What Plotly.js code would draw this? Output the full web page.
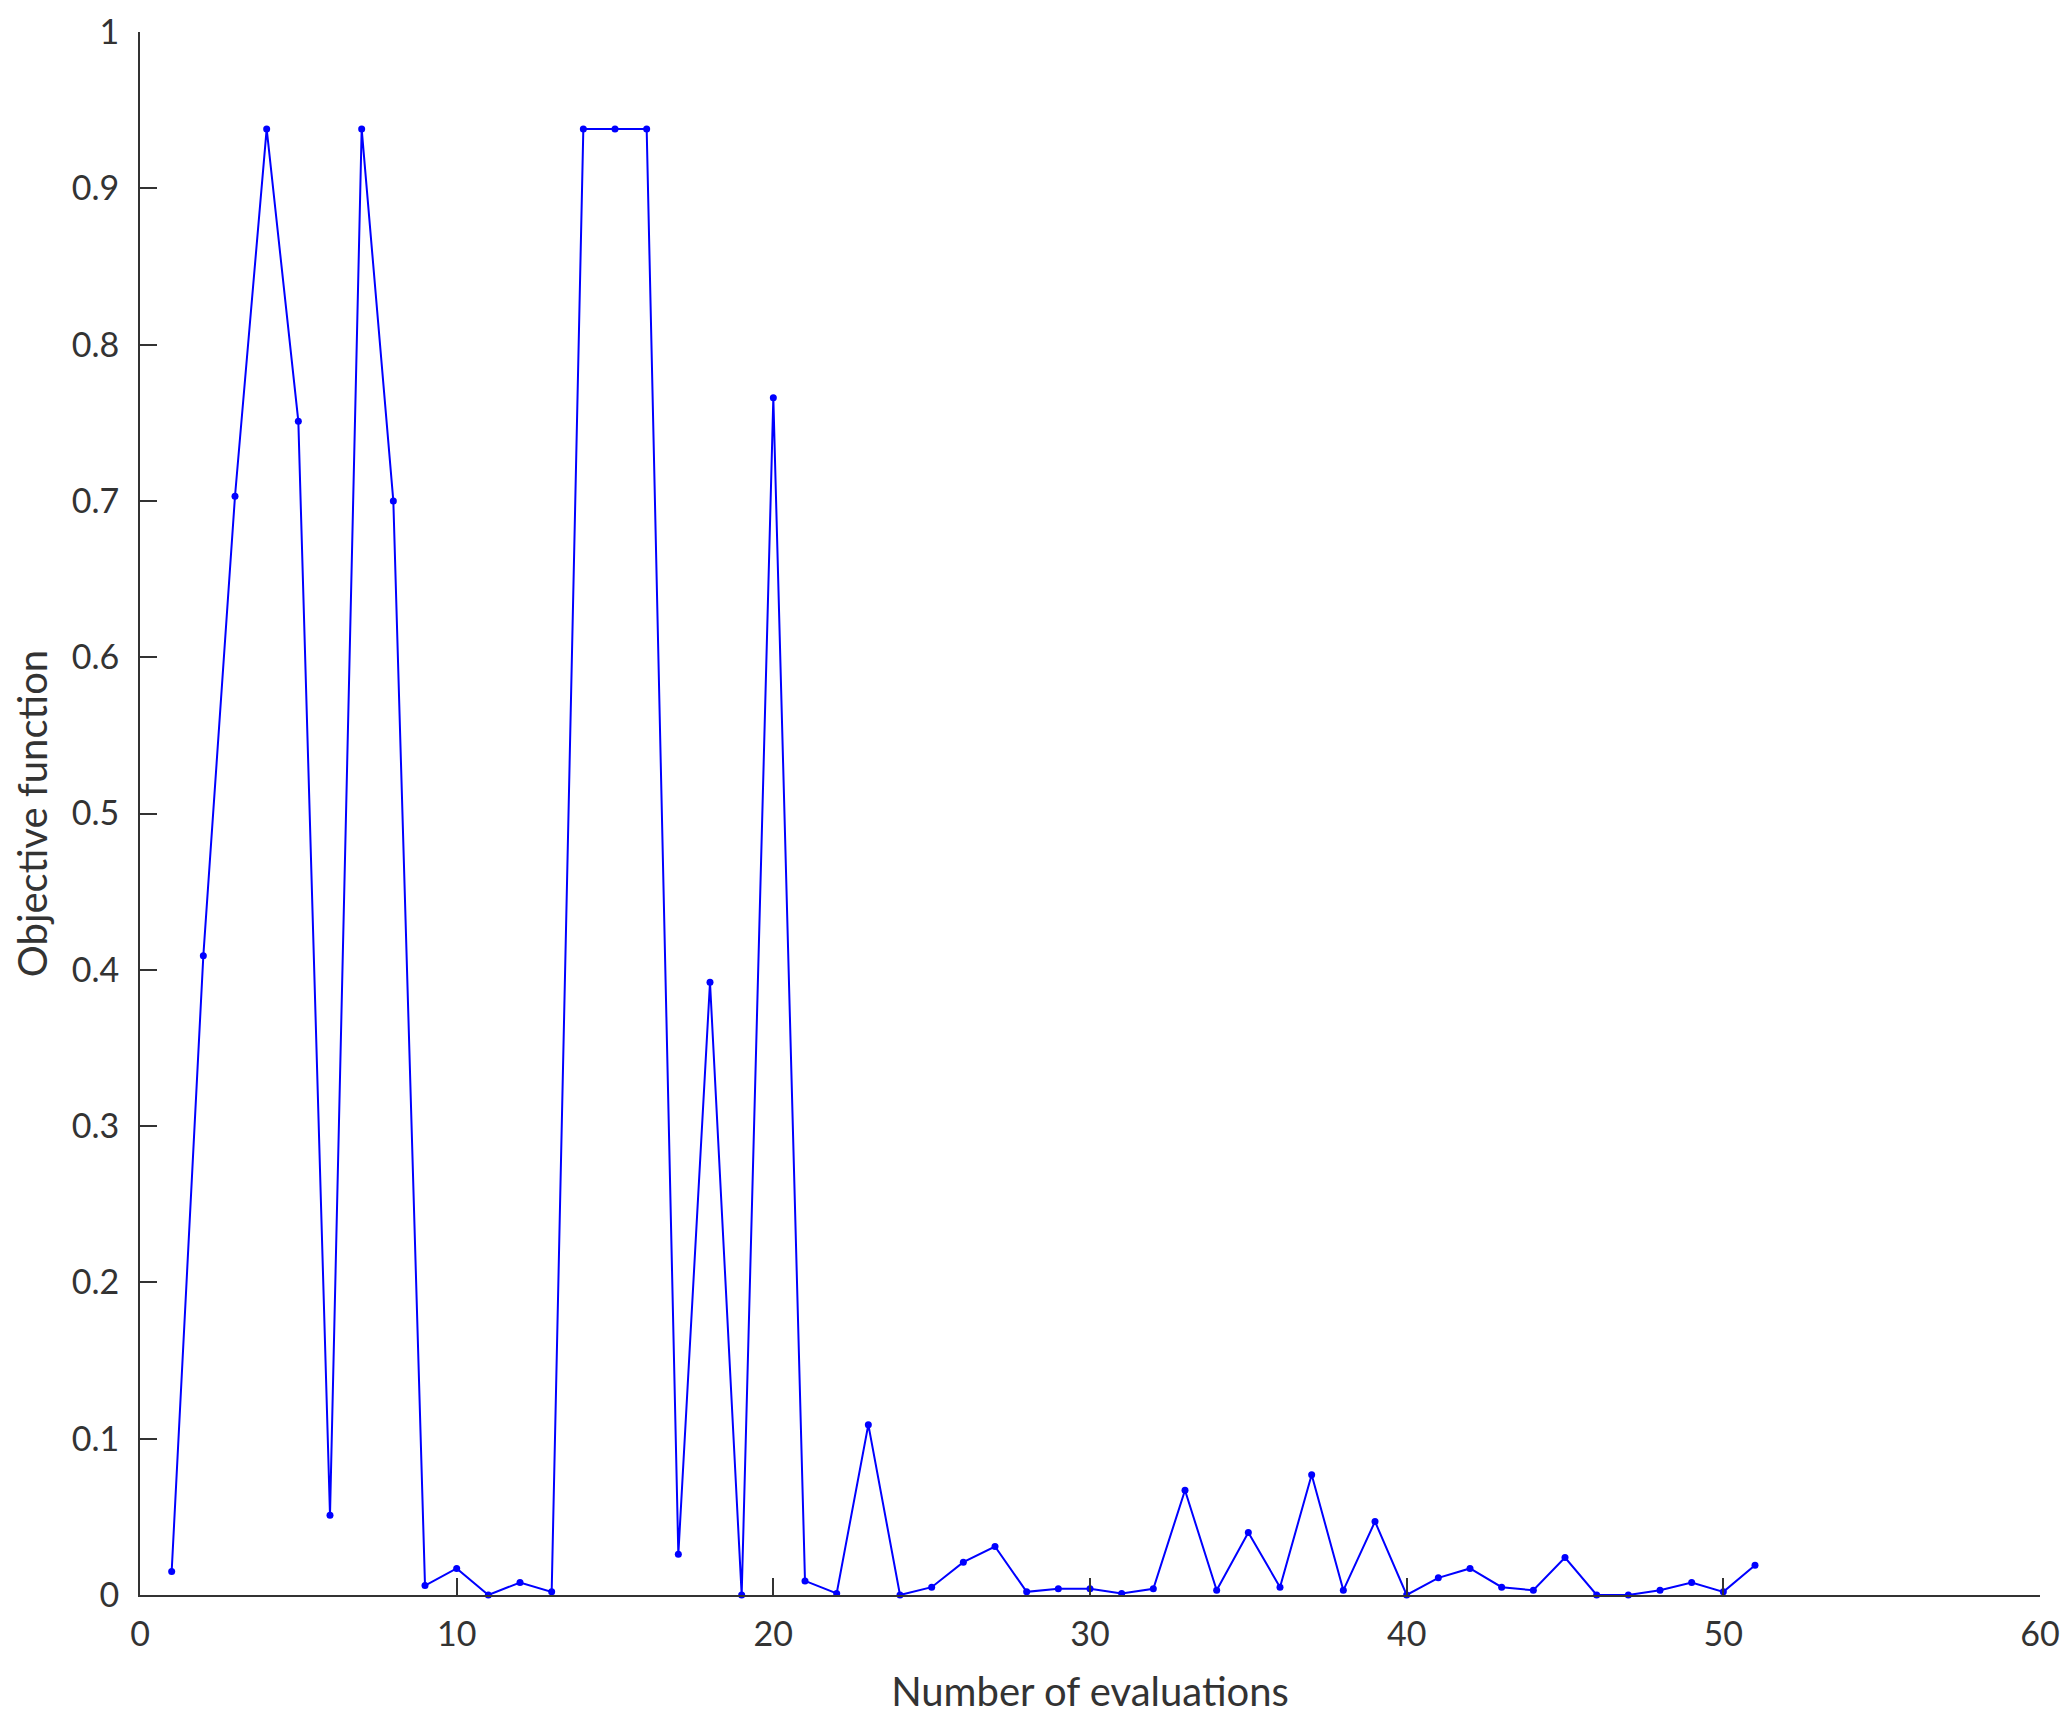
<!DOCTYPE html>
<html>
<head>
<meta charset="utf-8">
<script src="https://cdn.plot.ly/plotly-3.0.1.min.js"></script>
<style>
  body { margin: 0; background: #fff; }
  #graph { width: 2072px; height: 1728px; }
</style>
</head>
<body>
<div id="graph"></div>
<script>
// evaluation index and objective value
var evals = [];
for (var i = 1; i <= 51; i++) evals.push(i);

var objective = [
  0.015, 0.409, 0.703, 0.938, 0.751, 0.051, 0.938, 0.700, 0.006, 0.017,
  0.000, 0.008, 0.002, 0.938, 0.938, 0.938, 0.026, 0.392, 0.000, 0.766,
  0.009, 0.001, 0.109, 0.000, 0.005, 0.021, 0.031, 0.002, 0.004, 0.004,
  0.001, 0.004, 0.067, 0.003, 0.040, 0.005, 0.077, 0.003, 0.047, 0.000,
  0.011, 0.017, 0.005, 0.003, 0.024, 0.000, 0.000, 0.003, 0.008, 0.002,
  0.019
];

var xTicks = [0, 10, 20, 30, 40, 50, 60];
var yTicks = [0, 0.1, 0.2, 0.3, 0.4, 0.5, 0.6, 0.7, 0.8, 0.9, 1];
var yTickText = ['0', '0.1', '0.2', '0.3', '0.4', '0.5', '0.6', '0.7', '0.8', '0.9', '1'];

var fontFam = 'Lato, "Open Sans", sans-serif';

var trace = {
  x: evals,
  y: objective,
  type: 'scatter',
  mode: 'lines+markers',
  line: { color: 'rgb(0, 0, 255)', width: 2 },
  marker: { color: 'rgb(0, 0, 255)', size: 7 },
  cliponaxis: false
};

var axisCommon = {
  showgrid: false,
  zeroline: false,
  showline: true,
  linecolor: '#333333',
  linewidth: 2,
  ticks: 'inside',
  ticklen: 17,
  tickwidth: 2,
  tickcolor: '#333333',
  tickfont: { family: fontFam, size: 34, color: '#333333' },
  fixedrange: true
};

var layout = {
  width: 2072,
  height: 1728,
  paper_bgcolor: '#ffffff',
  plot_bgcolor: '#ffffff',
  showlegend: false,
  margin: { l: 140, r: 32, t: 32, b: 133 },
  xaxis: Object.assign({}, axisCommon, {
    range: [0, 60],
    tickvals: xTicks,
    ticktext: xTicks.map(String),
    ticklabelstandoff: 8,
    title: { text: 'Number of evaluations', font: { family: fontFam, size: 40, color: '#333333' }, standoff: 26 }
  }),
  yaxis: Object.assign({}, axisCommon, {
    range: [0, 1],
    tickvals: yTicks,
    ticktext: yTickText,
    ticklabelstandoff: 12,
    title: { text: 'Objective function', font: { family: fontFam, size: 40, color: '#333333' }, standoff: 12 }
  })
};

Plotly.newPlot('graph', [trace], layout, { staticPlot: true });
</script>
</body>
</html>
